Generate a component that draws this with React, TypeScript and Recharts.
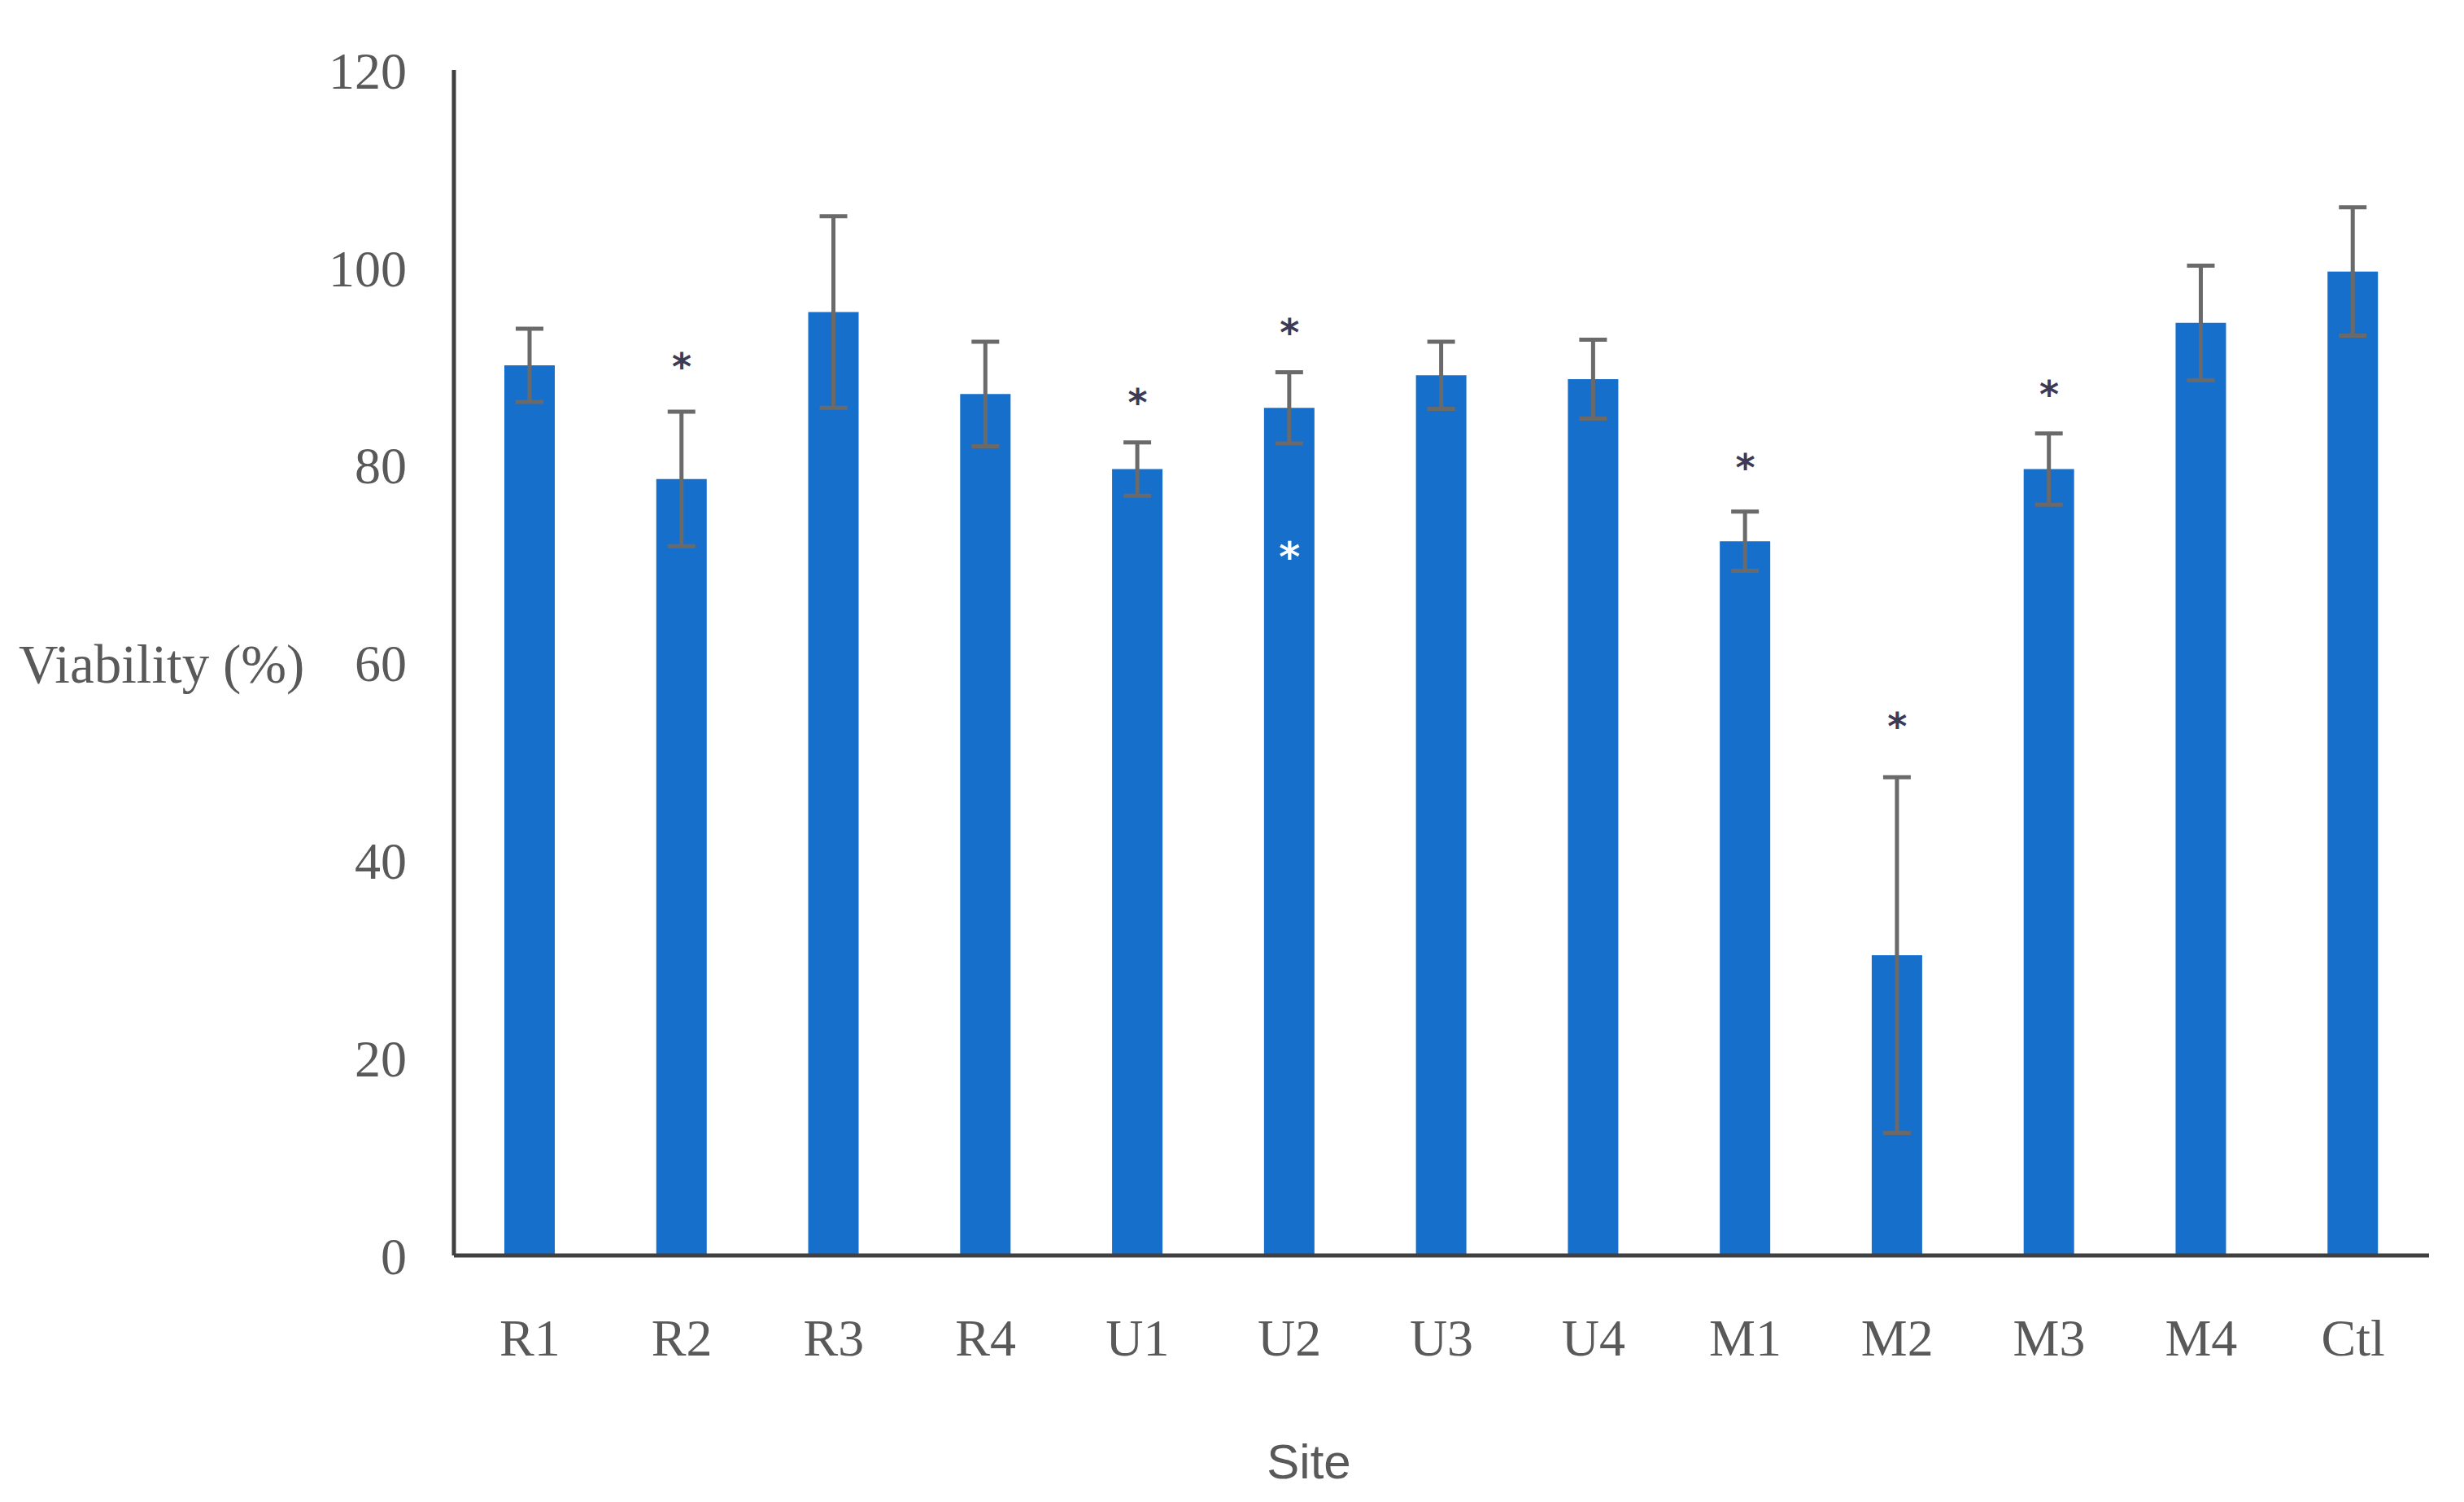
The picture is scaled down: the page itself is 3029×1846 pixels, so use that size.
import React from 'react';
import { ComposedChart, Bar, XAxis, YAxis, ErrorBar, Scatter, Label } from 'recharts';

const sites = ['R1', 'R2', 'R3', 'R4', 'U1', 'U2', 'U3', 'U4', 'M1', 'M2', 'M3', 'M4', 'Ctl'];
const viability = [90.1, 78.6, 95.5, 87.2, 79.6, 85.8, 89.1, 88.7, 72.3, 30.4, 79.6, 94.4, 99.6];
const errors = [3.7, 6.8, 9.7, 5.3, 2.7, 3.6, 3.4, 4.0, 3.0, 18.0, 3.6, 5.8, 6.5];
const starLevels: (number | null)[] = [null, 90.7, null, null, 87.1, 94.2, null, null, 80.5, 54.3, 87.9, null, null];
const whiteStarLevels: (number | null)[] = [null, null, null, null, null, 71.5, null, null, null, null, null, null, null];
const yTicks = [0, 20, 40, 60, 80, 100, 120];

const data = sites.map((s, i) => ({
  site: s,
  value: viability[i],
  err: errors[i],
  star: starLevels[i],
  wstar: whiteStarLevels[i],
}));

const StarShape = (color: string, key: 'star' | 'wstar', fs: number) => (props: any) => {
  const { cx, cy, payload } = props;
  if (!payload || payload[key] == null || !isFinite(cx) || !isFinite(cy)) return <g />;
  return (
    <text x={cx} y={cy + fs * 0.55} textAnchor="middle" fontSize={fs} fontWeight="bold"
      fontFamily="'DejaVu Sans', sans-serif" fill={color}>*</text>
  );
};

const tickStyle = { fontFamily: "'Liberation Serif', serif", fontSize: 64, fill: '#595959' };

export default function App() {
  return (
    <div style={{ width: 3013, height: 1830, overflow: 'hidden', background: '#fff' }}>
      <ComposedChart width={3013} height={1830} data={data}
        margin={{ top: 78, right: 35, bottom: 0, left: 0 }}>
        <XAxis dataKey="site" tickLine={false} tickSize={0} tickMargin={78}
          axisLine={{ stroke: '#404040', strokeWidth: 5 }} tick={tickStyle} height={295}
          interval={0}>
          <Label content={(p: any) => {
            const vb = p.viewBox || {};
            return (
              <text x={vb.x + 1051} y={vb.y + 274} textAnchor="middle"
                fontFamily="'Liberation Sans', sans-serif" fontSize={60} fill="#595959">Site</text>
            );
          }} />
        </XAxis>
        <YAxis type="number" domain={[0, 120]} ticks={yTicks} tickLine={false} tickSize={0}
          tickMargin={58} axisLine={{ stroke: '#404040', strokeWidth: 5 }} tick={tickStyle}
          width={550} allowDataOverflow>
          <Label content={(p: any) => {
            const vb = p.viewBox || {};
            return (
              <text x={vb.x + 15} y={vb.y + vb.height / 2 + 24} textAnchor="start"
                fontFamily="'Liberation Serif', serif" fontSize={67} fill="#595959">Viability (%)</text>
            );
          }} />
        </YAxis>
        <Bar dataKey="value" fill="#176fcc" barSize={62} isAnimationActive={false}>
          <ErrorBar dataKey="err" width={17} stroke="#6a6a6a" strokeWidth={5} direction="y" />
        </Bar>
        <Scatter dataKey="star" isAnimationActive={false} shape={StarShape('#3d3a55', 'star', 46)} />
        <Scatter dataKey="wstar" isAnimationActive={false} shape={StarShape('#ffffff', 'wstar', 50)} />
      </ComposedChart>
    </div>
  );
}
